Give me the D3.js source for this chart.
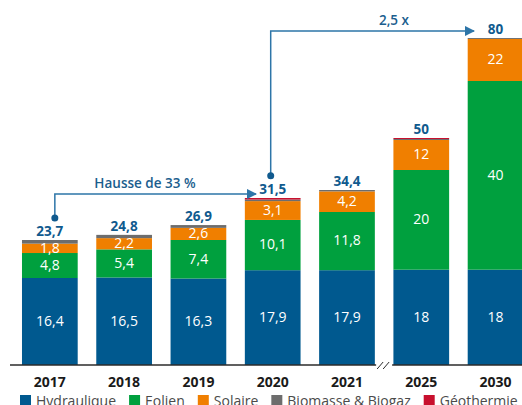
<!DOCTYPE html>
<html>
<head>
<meta charset="utf-8">
<script src="https://cdn.jsdelivr.net/npm/d3@7"></script>
<style>
  body { margin: 0; background: #fff; }
  svg { display: block; font-family: "Open Sans", sans-serif; }
</style>
</head>
<body>
<svg></svg>
<script>
const [width, height] = [522, 405];

const years = ['2017', '2018', '2019', '2020', '2021', '2025', '2030'];
const hydraulique = [16.4, 16.5, 16.3, 17.9, 17.9, 18, 18];
const eolien = [4.8, 5.4, 7.4, 10.1, 11.8, 20, 40];
const solaire = [1.8, 2.2, 2.6, 3.1, 4.2, 12, 22];
const biomasse = [0.7, 0.7, 0.6, 0.2, 0.5, 0.4, 0.5];
const geothermie = [0, 0, 0, 0.2, 0, 0.4, 0];
const totals = ['23,7', '24,8', '26,9', '31,5', '34,4', '50', '80'];
const segLabels = {
  hydraulique: ['16,4', '16,5', '16,3', '17,9', '17,9', '18', '18'],
  eolien: ['4,8', '5,4', '7,4', '10,1', '11,8', '20', '40'],
  solaire: ['1,8', '2,2', '2,6', '3,1', '4,2', '12', '22']
};
const seriesNames = ['Hydraulique', 'Eolien', 'Solaire', 'Biomasse & Biogaz', 'Géothermie'];
const keys = ['hydraulique', 'eolien', 'solaire', 'biomasse', 'geothermie'];
const colors = ['#00598f', '#00a03e', '#f07f00', '#6d6d6d', '#c8102e'];

const rows = years.map((y, i) => ({
  year: y, hydraulique: hydraulique[i], eolien: eolien[i], solaire: solaire[i],
  biomasse: biomasse[i], geothermie: geothermie[i]
}));

const svg = d3.select('svg').attr('width', width).attr('height', height);

// the chart is drawn on a compressed (broken) value axis
const x = d3.scaleBand().domain(years).range([12.7, 532.7]).paddingInner(0.25).paddingOuter(0.125);
const y = d3.scaleLinear()
  .domain([0, 16.4, 23.7, 29.7, 31.5, 34.4, 38, 50.8, 58, 80.5])
  .range([365, 278, 240, 212, 198, 190, 170, 138, 81, 38]);
const color = d3.scaleOrdinal().domain(keys).range(colors);

const stacked = d3.stack().keys(keys)(rows);

const layers = svg.append('g').selectAll('g').data(stacked).join('g')
  .attr('fill', d => color(d.key));
layers.selectAll('rect').data(d => d).join('rect')
  .attr('x', d => x(d.data.year))
  .attr('width', x.bandwidth())
  .attr('y', d => y(d[1]))
  .attr('height', d => y(d[0]) - y(d[1]));

// values inside segments
stacked.filter(s => segLabels[s.key]).forEach(s => {
  svg.append('g').selectAll('text').data(s).join('text')
    .attr('x', d => x(d.data.year) + x.bandwidth() / 2)
    .attr('y', d => (y(d[0]) + y(d[1])) / 2 + 3)
    .attr('dy', '0.1em')
    .attr('text-anchor', 'middle')
    .attr('fill', '#fff')
    .attr('font-size', 14)
    .text((d, i) => segLabels[s.key][i]);
});

// totals
const topLayer = stacked[stacked.length - 1];
svg.append('g').selectAll('text').data(topLayer).join('text')
  .attr('x', d => x(d.data.year) + x.bandwidth() / 2)
  .attr('y', d => y(d[1]) - 4)
  .attr('text-anchor', 'middle')
  .attr('fill', '#105a8e')
  .attr('font-weight', 700)
  .attr('font-size', 13.5)
  .text((d, i) => totals[i]);

// axis with break between 2021 and 2025
const breakX = (x('2021') + x.bandwidth() + x('2025')) / 2;
const axisG = svg.append('g').attr('stroke', '#2b2b2b').attr('stroke-width', 1.5);
axisG.append('line').attr('x1', 10).attr('x2', breakX - 8).attr('y1', y(0)).attr('y2', y(0));
axisG.append('line').attr('x1', breakX + 8).attr('x2', width).attr('y1', y(0)).attr('y2', y(0));
[-4, 2].forEach(o => {
  axisG.append('line').attr('stroke-width', 1)
    .attr('x1', breakX + o - 3).attr('y1', y(0) + 4)
    .attr('x2', breakX + o + 3).attr('y2', y(0) - 3);
});

svg.append('g').selectAll('text').data(years).join('text')
  .attr('x', d => x(d) + x.bandwidth() / 2)
  .attr('y', 387)
  .attr('text-anchor', 'middle')
  .attr('font-weight', 700)
  .attr('font-size', 14)
  .attr('fill', '#1a1a1a')
  .text(d => d);

// annotations
svg.append('defs').append('marker')
  .attr('id', 'arr').attr('viewBox', '0 0 10 10').attr('refX', 9).attr('refY', 5)
  .attr('markerWidth', 7).attr('markerHeight', 7).attr('orient', 'auto')
  .append('path').attr('d', 'M0,0L10,5L0,10z').attr('fill', '#2d75a8');

function annot(fromYear, fromTop, dx, lineY, toX, label, labelX) {
  const cx = x(fromYear) + x.bandwidth() / 2 + dx;
  const cy = y(fromTop) - 22;
  svg.append('path')
    .attr('d', `M${cx},${cy}V${lineY}H${toX}`)
    .attr('fill', 'none').attr('stroke', '#2d75a8').attr('stroke-width', 1.5)
    .attr('marker-end', 'url(#arr)');
  svg.append('circle').attr('cx', cx).attr('cy', cy).attr('r', 3.5).attr('fill', '#105a8e');
  svg.append('text')
    .attr('x', labelX).attr('y', lineY - 6)
    .attr('text-anchor', 'middle')
    .attr('font-weight', 600).attr('font-size', 13.5)
    .attr('fill', '#1b5e8e')
    .text(label);
}
annot('2017', 23.7, 5, 194, 256, 'Hausse de 33 %', 145);
annot('2020', 31.6, -2, 31, 474, '2,5 x', 394);

// legend (cut off at the bottom, as in the source)
const legend = svg.append('g').attr('transform', 'translate(20, 395)');
let lx = 0;
seriesNames.forEach((name, i) => {
  legend.append('rect').attr('x', lx).attr('y', 0).attr('width', 11).attr('height', 11).attr('fill', colors[i]);
  const t = legend.append('text').attr('x', lx + 16).attr('y', 11)
    .attr('font-size', 14).attr('fill', '#4a4a4a').text(name);
  lx += 16 + t.node().getComputedTextLength() + 13;
});
</script>
</body>
</html>
